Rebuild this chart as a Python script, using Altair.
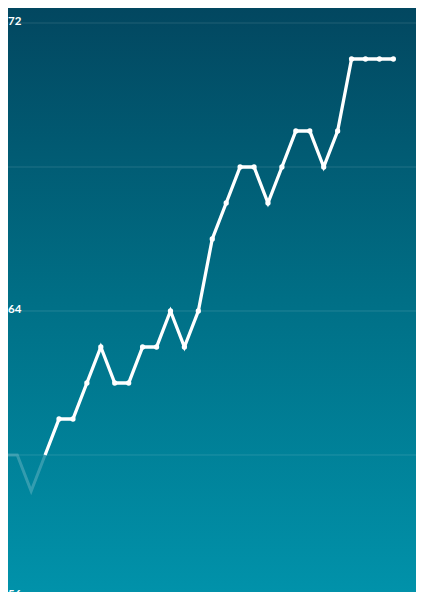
import altair as alt
import pandas as pd

# data
indices = list(range(29))
values = [60, 60, 59, 60, 61, 61, 62, 63, 62, 62, 63, 63, 64, 63, 64,
          66, 67, 68, 68, 67, 68, 69, 69, 68, 69, 71, 71, 71, 71]
grid_values = [56, 60, 64, 68, 72]
label_values = [72, 64]
bottom_label = [56]
reveal_index = 3  # faded part up to here, white afterwards

df = pd.DataFrame({"i": indices, "v": values})
faded = df[df.i <= reveal_index]
bright = df[df.i >= reveal_index]
dots = df[df.i > reveal_index]
grid_df = pd.DataFrame({"v": grid_values})
label_df = pd.DataFrame({"v": label_values, "t": [str(x) for x in label_values]})
bottom_df = pd.DataFrame({"v": bottom_label, "t": [str(x) for x in bottom_label]})

W, H = 408, 584
xs = alt.Scale(domain=[0.337, 29.626], nice=False, zero=False)
ys = alt.Scale(domain=[56.194, 72.4167], nice=False, zero=False)

bg = alt.Chart(pd.DataFrame({"a": [0]})).mark_rect(
    fill=alt.Gradient(
        gradient="linear",
        stops=[alt.GradientStop(color="#024760", offset=0),
               alt.GradientStop(color="#006f86", offset=0.5),
               alt.GradientStop(color="#0192aa", offset=1)],
        x1=0, x2=0, y1=0, y2=1),
    stroke=None,
).encode(x=alt.value(0), x2=alt.value(W), y=alt.value(0), y2=alt.value(H))

grid = alt.Chart(grid_df).mark_rule(color="#ffffff", opacity=0.13, strokeWidth=1).encode(
    y=alt.Y("v:Q", scale=ys, axis=None)
)

labels = alt.Chart(label_df).mark_text(
    align="left", baseline="middle", color="#ffffff", fontSize=11.5,
    fontWeight="bold", font="Lato", dy=-1
).encode(x=alt.value(0), y=alt.Y("v:Q", scale=ys, axis=None), text="t:N")

labels_bottom = alt.Chart(bottom_df).mark_text(
    align="left", baseline="top", color="#ffffff", fontSize=11.5,
    fontWeight="bold", font="Lato", dy=-10
).encode(x=alt.value(0), y=alt.Y("v:Q", scale=ys, axis=None), text="t:N")

faded_line = alt.Chart(faded).mark_line(
    color="#ffffff", opacity=0.2, strokeWidth=3
).encode(x=alt.X("i:Q", scale=xs, axis=None), y=alt.Y("v:Q", scale=ys, axis=None))

bright_line = alt.Chart(bright).mark_line(
    color="#ffffff", strokeWidth=3.3, strokeCap="butt"
).encode(x=alt.X("i:Q", scale=xs, axis=None), y=alt.Y("v:Q", scale=ys, axis=None))

points = alt.Chart(dots).mark_point(
    filled=True, color="#ffffff", opacity=1, size=28
).encode(x=alt.X("i:Q", scale=xs, axis=None), y=alt.Y("v:Q", scale=ys, axis=None))

chart = alt.layer(bg, grid, labels, labels_bottom, faded_line, bright_line, points).properties(
    width=W, height=H,
    autosize=alt.AutoSizeParams(type="none"),
    padding=0,
).configure_view(stroke=None)

chart.save("out.html", embed_options={"renderer": "svg", "actions": False})
